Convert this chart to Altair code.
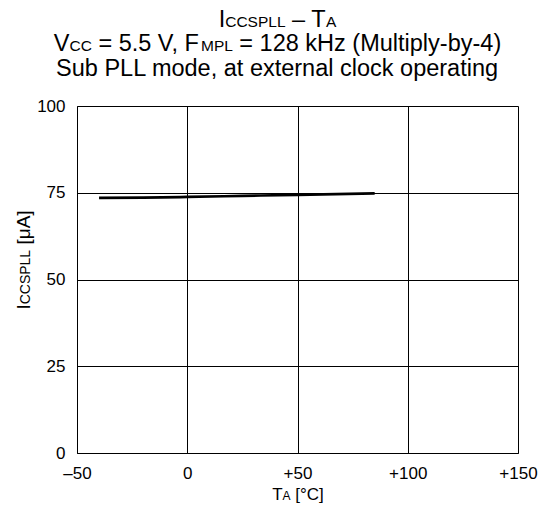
import altair as alt
import pandas as pd

# ---------------- data ----------------
temp_c = [-40, -20, 0, 25, 50, 85]
icc_ua = [73.5, 73.6, 73.8, 74.1, 74.4, 74.8]

x_ticks = [-50, 0, 50, 100, 150]
x_tick_labels = ["\u201350", "0", "+50", "+100", "+150"]
y_ticks = [0, 25, 50, 75, 100]
y_tick_labels = ["0", "25", "50", "75", "100"]

# title / axis-title text, split into (text, is_subscript) runs
title_line1 = [("I", False), ("CCSPLL", True), (" \u2013 T", False), ("A", True)]
title_line2 = [("V", False), ("CC", True), (" = 5.5 V, F", False), ("MPL", True),
               (" = 128 kHz (Multiply-by-4)", False)]
title_line3 = [("Sub PLL mode, at external clock operating", False)]
x_title = [("T", False), ("A", True), (" [\u00b0C]", False)]
y_title = [("I", False), ("CCSPLL", True), (" [\u03bcA]", False)]

# ---------------- layout ----------------
FONT = "Liberation Sans"
W, H = 441, 347
PAD = {"left": 69, "top": 98, "right": 26, "bottom": 51}

# Arial / Liberation Sans advance widths (per 1000 em)
AW = {' ': 278, 'I': 278, 'C': 722, 'S': 667, 'P': 667, 'L': 556, 'T': 611,
      'A': 667, 'V': 667, 'F': 611, 'M': 833, '=': 584, ',': 278, '.': 278, 'k': 500,
      'H': 722, 'z': 500, '(': 333, ')': 333, 'u': 556, 'l': 222, 't': 278, 'i': 222,
      'p': 556, 'y': 500, '-': 333, 'b': 556, '\u2013': 556, '[': 278, ']': 278,
      '\u03bc': 576, '\u00b0': 400, 'm': 833, 'o': 556, 'd': 556, 'e': 556, 'a': 556,
      'x': 500, 'r': 333, 'n': 556, 'c': 500, 'g': 556, 'h': 556}


def text_w(s, fs):
    return sum(AW.get(ch, 556) for ch in s) * fs / 1000.0


rows = []


def place(runs, cx, cy, fs, fs_sub, angle=0):
    sizes = [fs_sub if sub else fs for _, sub in runs]
    total = sum(text_w(t, f) for (t, _), f in zip(runs, sizes))
    pos = -total / 2.0
    for (t, _), f in zip(runs, sizes):
        lead = len(t) - len(t.lstrip(" "))
        start = pos + text_w(" " * lead, f)
        shown = t.strip(" ")
        if angle == 0:
            rows.append({"t": shown, "px": cx + start, "py": cy, "fs": f, "ang": 0})
        else:
            rows.append({"t": shown, "px": cx, "py": cy - start, "fs": f, "ang": 270})
        pos += text_w(t, f)


place(title_line1, 200.5, -79, 23.5, 15.5)
place(title_line2, 200.5, -55, 23.5, 15.5)
place(title_line3, 200.5, -30, 23.5, 15.5)
place(x_title, 221.0, 394, 17, 12)
place(y_title, -47, 154, 19, 14, angle=270)

text_df = pd.DataFrame(rows)
line_df = pd.DataFrame({"T": temp_c, "I": icc_ua})


def label_expr(vals, labels):
    parts = " : ".join(f"datum.value == {v} ? '{l}'" for v, l in zip(vals, labels))
    return parts + " : ''"


def axis(vals, labels):
    return alt.Axis(values=vals, labelExpr=label_expr(vals, labels),
                    title=None, grid=True, gridColor="black", gridWidth=1,
                    domainColor="black", domainWidth=1, tickSize=0, labelPadding=12,
                    labelFontSize=17, labelFont=FONT, labelColor="black",
                    labelFlush=False)


line = alt.Chart(line_df).mark_line(color="black", strokeWidth=2.7, interpolate="monotone").encode(
    x=alt.X("T:Q", scale=alt.Scale(domain=[-50, 150], nice=False), axis=axis(x_ticks, x_tick_labels)),
    y=alt.Y("I:Q", scale=alt.Scale(domain=[0, 100], nice=False), axis=axis(y_ticks, y_tick_labels)),
)

texts = alt.Chart(text_df).mark_text(align="left", baseline="alphabetic", font=FONT,
                                     color="black").encode(
    x=alt.X("px:Q", scale=None, axis=None),
    y=alt.Y("py:Q", scale=None, axis=None),
    size=alt.Size("fs:Q", scale=None, legend=None),
    angle=alt.Angle("ang:Q", scale=None),
    text="t:N",
)

chart = alt.layer(line, texts).resolve_scale(x="independent", y="independent").properties(
    width=W, height=H,
    autosize=alt.AutoSizeParams(type="none"),
    padding=PAD,
).configure_view(stroke="black", strokeWidth=1).configure(background="white")

chart.save("out.html", embed_options={"renderer": "svg", "actions": False})
